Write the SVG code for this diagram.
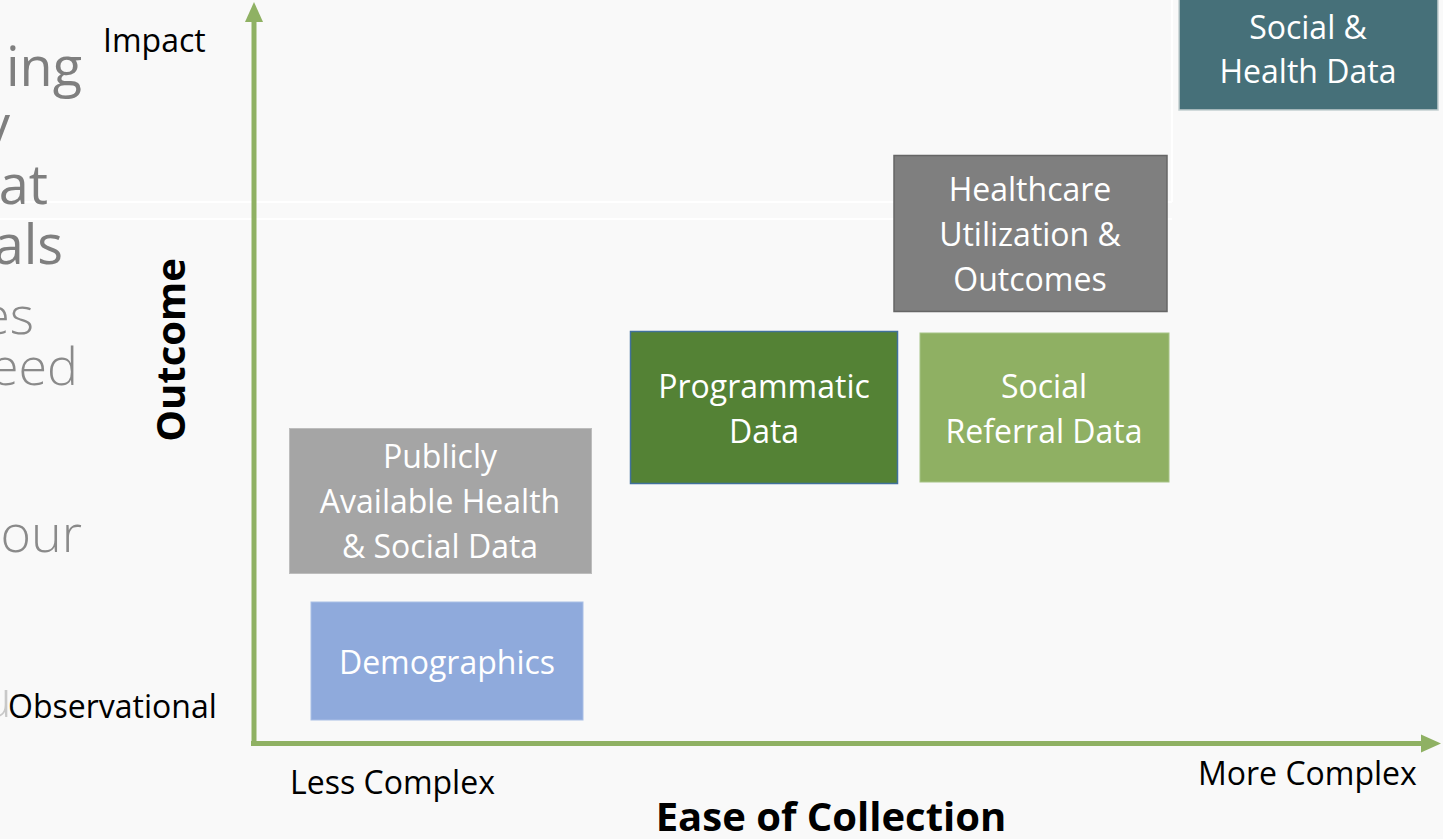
<svg xmlns="http://www.w3.org/2000/svg" width="1443" height="839" viewBox="0 0 1443 839">
  <style>
    .bg { fill: #f9f9f9; }
    .rule { stroke: #ffffff; stroke-width: 2; fill: none; }
    .side { font-family: "Open Sans", "Noto Sans", sans-serif; font-weight: 300; fill: #7f7f7f; text-anchor: end; }
    .side.big { font-size: 54px; font-weight: 400; }
    .side.mid { font-size: 52px; fill: #8a8a8a; }
    .lbl { font-family: "Open Sans", "Noto Sans", sans-serif; font-size: 32px; fill: #000; }
    .title { font-family: "Open Sans", "Noto Sans", sans-serif; font-weight: 700; fill: #000; font-size: 40px; text-anchor: middle; }
    .box text { font-family: "Open Sans", "Noto Sans", sans-serif; font-size: 32px; fill: #ffffff; text-anchor: middle; }
    .axis { stroke: #8fb163; stroke-width: 5; fill: none; }
  </style>
  <defs>
    <marker id="head" markerUnits="userSpaceOnUse" markerWidth="20" markerHeight="20" viewBox="0 0 20 20" refX="2" refY="10" orient="auto">
      <path d="M0,1 L20,10 L0,19 Z" fill="#8fb163"/>
    </marker>
  </defs>

  <rect class="bg" x="0" y="0" width="1443" height="839"/>
  <!-- faint panel edges behind the chart -->
  <path class="rule" d="M0,202 H1172 M0,219 H1172 M1172,0 V202"/>

  <!-- clipped body text on the left margin -->
  <text class="side big" x="82" y="86">ing</text>
  <text class="side big" x="10" y="144">y</text>
  <text class="side big" x="48" y="204">at</text>
  <text class="side big" x="63" y="264">als</text>
  <text class="side mid" x="34" y="334">es</text>
  <text class="side mid" x="78" y="385">eed</text>
  <text class="side mid" x="82" y="552">our</text>
  <text class="side mid" x="12" y="717" style="fill:#c8c8c8">u</text>
  <text class="side mid" x="3" y="820">n</text>

  <!-- axis labels -->
  <text class="lbl" x="103" y="52">Impact</text>
  <text class="lbl" x="8" y="718">Observational</text>
  <text class="lbl" x="290" y="794">Less Complex</text>
  <text class="lbl" x="1198" y="785">More Complex</text>
  <text class="title" x="831" y="831">Ease of Collection</text>
  <text class="title" transform="translate(185,350) rotate(-90)">Outcome</text>

  <!-- axes -->
  <g id="connectors">
    <path class="axis" d="M254,746 V20" marker-end="url(#head)"/>
    <path class="axis" d="M251,743.5 H1423" marker-end="url(#head)"/>
  </g>

  <g id="demographics" class="box">
    <rect x="311" y="602" width="272" height="118" fill="#8faadc" stroke="#a9bfe6" stroke-width="1"/>
    <text x="447" y="674">Demographics</text>
  </g>

  <g id="public-data" class="box">
    <rect x="289.5" y="428.5" width="302" height="145" fill="#a5a5a5" stroke="#bdbdbd" stroke-width="1"/>
    <text x="440" y="468">Publicly</text>
    <text x="440" y="513">Available Health</text>
    <text x="440" y="558">&amp; Social Data</text>
  </g>

  <g id="programmatic" class="box">
    <rect x="630.5" y="331.5" width="267" height="152" fill="#548235" stroke="#41719c" stroke-width="1.5"/>
    <text x="764" y="398">Programmatic</text>
    <text x="764" y="443">Data</text>
  </g>

  <g id="social-referral" class="box">
    <rect x="920" y="333" width="249" height="149" fill="#8fb063" stroke="#a6c386" stroke-width="1"/>
    <text x="1044" y="398">Social</text>
    <text x="1044" y="443">Referral Data</text>
  </g>

  <g id="healthcare" class="box">
    <rect x="894" y="155.5" width="273" height="156" fill="#7f7f7f" stroke="#666666" stroke-width="1.5"/>
    <text x="1030" y="201">Healthcare</text>
    <text x="1030" y="246">Utilization &amp;</text>
    <text x="1030" y="291">Outcomes</text>
  </g>

  <g id="integrated" class="box">
    <rect x="1179" y="-5" width="259" height="115" fill="#467079" stroke="#c4cfd1" stroke-width="1.5"/>
    <text x="1308" y="39">Social &amp;</text>
    <text x="1308" y="83">Health Data</text>
  </g>
</svg>
